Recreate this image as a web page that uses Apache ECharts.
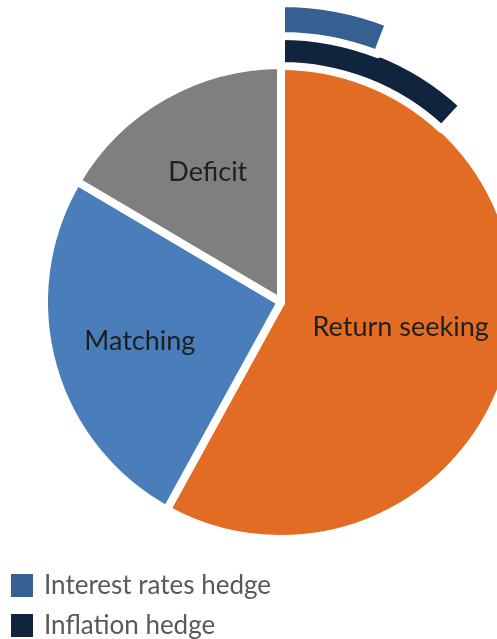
<!DOCTYPE html>
<html>
<head>
<meta charset="utf-8">
<script src="https://cdn.jsdelivr.net/npm/echarts@6/dist/echarts.min.js"></script>
<style>
    html, body { margin: 0; padding: 0; background: #fff; }
    #chart { width: 497px; height: 639px; }
</style>
</head>
<body>
<div id="chart"></div>
<script>
    // main allocation (% of the whole)
    const sliceNames = ['Return seeking', 'Matching', 'Deficit']
    const sliceValues = [58, 25.5, 16.5]
    const sliceColors = ['#E36C24', '#4A7EBB', '#7F7F7F']

    // hedges, shown as outer arcs (% of the whole circle)
    const hedgeNames = ['Interest rates hedge', 'Inflation hedge']
    const hedgeValues = [5.9, 11.9]
    const hedgeColors = ['#376092', '#10243E']

    const CENTER = [281, 302]
    // label nudges per slice, in px
    const labelShift = [[2, -5], [-24, 7], [-13, -24]]

    // one ring per hedge: filled part + invisible remainder
    function hedgeRing(i, radius) {
        return {
            type: 'pie',
            center: CENTER,
            radius: radius,
            startAngle: 90,
            clockwise: true,
            silent: true,
            label: {show: false},
            labelLine: {show: false},
            emphasis: {disabled: true},
            data: [
                {
                    name: hedgeNames[i],
                    value: hedgeValues[i],
                    itemStyle: {color: hedgeColors[i], borderColor: '#fff', borderWidth: 8}
                },
                {
                    name: '',
                    value: 100 - hedgeValues[i],
                    itemStyle: {color: 'transparent', borderWidth: 0}
                }
            ]
        }
    }

    // one legend block per hedge, stacked
    const legends = hedgeNames.map((n, i) => ({
        data: [n],
        left: 9,
        top: 572 + i * 40,
        padding: 0,
        icon: 'rect',
        itemWidth: 24,
        itemHeight: 25,
        selectedMode: false,
        textStyle: {
            fontFamily: 'Lato',
            fontSize: 26,
            color: '#595959',
            padding: [0, 0, 0, 5]
        }
    }))

    const chart = echarts.init(document.getElementById('chart'))
    chart.setOption({
        animation: false,
        legend: legends,
        series: [
            {
                type: 'pie',
                center: CENTER,
                radius: [0, 237],
                startAngle: 90,
                clockwise: true,
                silent: true,
                avoidLabelOverlap: false,
                emphasis: {disabled: true},
                itemStyle: {borderColor: '#fff', borderWidth: 8},
                label: {
                    show: true,
                    position: 'inside',
                    formatter: '{b}',
                    fontFamily: 'Lato',
                    fontSize: 27,
                    color: '#1f1f1f'
                },
                labelLine: {show: false},
                labelLayout(params) {
                    const s = labelShift[params.dataIndex]
                    return {dx: s[0], dy: s[1]}
                },
                data: sliceNames.map((n, i) => ({
                    name: n,
                    value: sliceValues[i],
                    itemStyle: {color: sliceColors[i]}
                }))
            },
            hedgeRing(1, [236, 268]),
            hedgeRing(0, [266, 299])
        ]
    })
</script>
</body>
</html>
